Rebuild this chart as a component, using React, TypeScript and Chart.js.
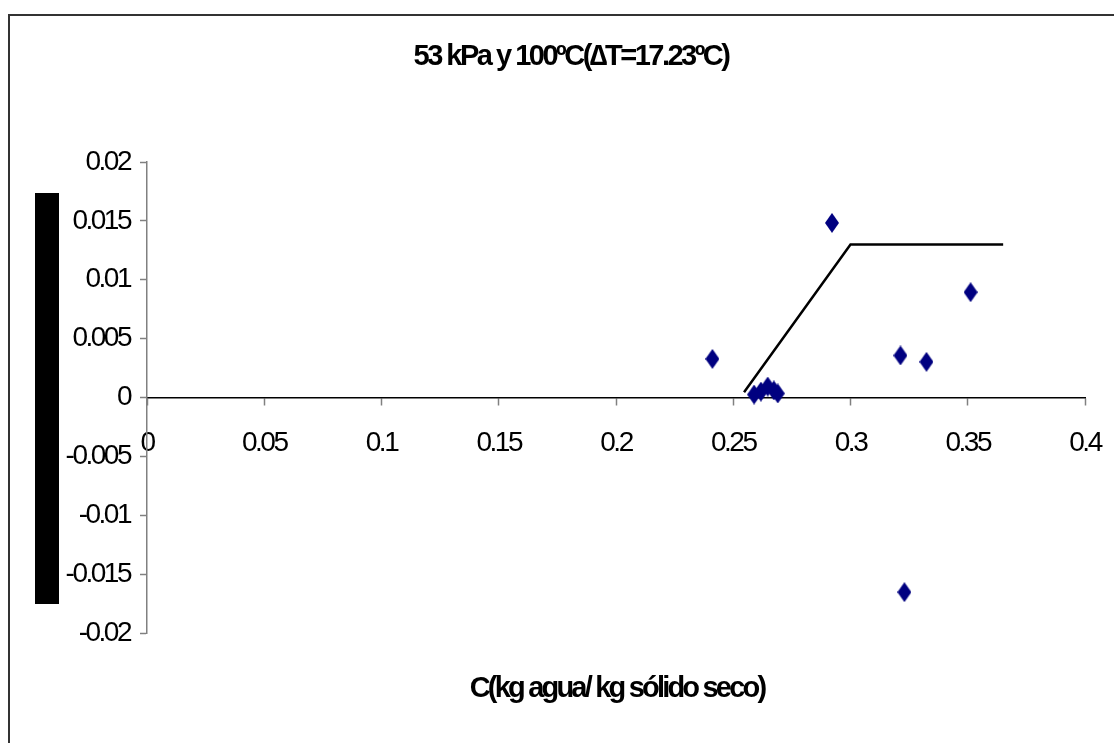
import { useEffect, useRef } from "react";
import { Chart, registerables } from "chart.js";

Chart.register(...registerables);

const TITLE = "53 kPa y 100ºC(∆T=17.23ºC)";
const X_TITLE = "C(kg agua/ kg sólido seco)";

const xTicks = [0, 0.05, 0.1, 0.15, 0.2, 0.25, 0.3, 0.35, 0.4];
const yTicks = [-0.02, -0.015, -0.01, -0.005, 0, 0.005, 0.01, 0.015, 0.02];

// measured points (C, rate)
const pointX = [0.2411, 0.2589, 0.2618, 0.2647, 0.2673, 0.269, 0.2921, 0.3213, 0.323, 0.3324, 0.3512];
const pointY = [0.00328, 0.00025, 0.0005, 0.00093, 0.0006, 0.00034, 0.01483, 0.00357, -0.01653, 0.00303, 0.00894];

// fitted model line
const lineX = [0.2546, 0.3, 0.3651];
const lineY = [0.00045, 0.013, 0.013];

const FONT_FAMILY = "'Liberation Sans', Arial, sans-serif";

function makeDiamond(w: number, h: number, color: string) {
  const c = document.createElement("canvas");
  c.width = w;
  c.height = h;
  const g = c.getContext("2d")!;
  g.fillStyle = color;
  g.beginPath();
  g.moveTo(w / 2, 0);
  g.lineTo(w, h / 2);
  g.lineTo(w / 2, h);
  g.lineTo(0, h / 2);
  g.closePath();
  g.fill();
  return c;
}

const decorPlugin = {
  id: "decor",
  beforeDraw(chart: any) {
    const ctx = chart.ctx;
    ctx.save();
    ctx.fillStyle = "#ffffff";
    ctx.fillRect(0, 0, chart.width, chart.height);
    ctx.fillStyle = "#333333";
    ctx.fillRect(8, 14, 2, chart.height);
    ctx.fillRect(8, 14, chart.width, 2);
    ctx.fillStyle = "#000000";
    ctx.fillRect(35, 193, 24, 411);
    ctx.restore();
    // condensed look for the tick labels
    (ctx as any).letterSpacing = "-2.5px";
  },
  afterDraw(chart: any) {
    const ctx = chart.ctx;
    const ca = chart.chartArea;
    ctx.save();
    ctx.fillStyle = "#000000";
    ctx.textAlign = "center";
    ctx.textBaseline = "middle";
    ctx.font = `bold 29px ${FONT_FAMILY}`;
    (ctx as any).letterSpacing = "-2.5px";
    ctx.fillText(TITLE, 571, 57);
    (ctx as any).letterSpacing = "-2.8px";
    ctx.fillText(X_TITLE, (ca.left + ca.right) / 2 + 1, 689);
    ctx.restore();
    (ctx as any).letterSpacing = "0px";
  },
};

export default function App() {
  const ref = useRef<HTMLCanvasElement | null>(null);

  useEffect(() => {
    if (!ref.current) return;
    const diamond = makeDiamond(14, 20, "#000080");
    const chart = new Chart(ref.current, {
      type: "scatter",
      data: {
        datasets: [
          {
            label: "Modelo",
            data: lineX.map((x, i) => ({ x, y: lineY[i] })),
            showLine: true,
            borderColor: "#000000",
            borderWidth: 2.5,
            pointRadius: 0,
            pointHoverRadius: 0,
            fill: false,
            order: 2,
          },
          {
            label: "Experimental",
            data: pointX.map((x, i) => ({ x, y: pointY[i] })),
            pointStyle: diamond as any,
            pointRadius: 7,
            backgroundColor: "#000080",
            borderColor: "#000080",
            showLine: false,
            order: 1,
          },
        ],
      },
      options: {
        responsive: false,
        animation: false,
        layout: { padding: { left: 0, top: 162, right: 29, bottom: 110 } },
        plugins: {
          legend: { display: false },
          tooltip: { enabled: false },
          title: { display: false },
        },
        scales: {
          x: {
            type: "linear",
            position: { y: 0 } as any,
            min: 0,
            max: 0.4,
            afterBuildTicks: (s: any) => {
              s.ticks = xTicks.map((v) => ({ value: v }));
            },
            afterFit: (s: any) => {
              s.paddingLeft = 0;
              s.paddingRight = 0;
              s.paddingTop = 0;
              s.paddingBottom = 0;
            },
            ticks: {
              color: "#000000",
              padding: 22,
              maxRotation: 0,
              autoSkip: false,
              font: { family: FONT_FAMILY, size: 28 },
              callback: (v: any) => String(Number(Number(v).toFixed(3))),
            },
            grid: {
              display: true,
              drawOnChartArea: false,
              drawTicks: true,
              tickLength: 7,
              tickColor: "#808080",
              tickWidth: 1.5,
            },
            border: { display: true, color: "#000000", width: 1.5 },
          },
          y: {
            type: "linear",
            position: "left",
            min: -0.02,
            max: 0.02,
            afterBuildTicks: (s: any) => {
              s.ticks = yTicks.map((v) => ({ value: v }));
            },
            afterFit: (s: any) => {
              s.width = 147;
              s.paddingLeft = 0;
              s.paddingRight = 0;
              s.paddingTop = 0;
              s.paddingBottom = 0;
            },
            ticks: {
              color: "#000000",
              padding: 10,
              autoSkip: false,
              font: { family: FONT_FAMILY, size: 28 },
              callback: (v: any) => String(Number(Number(v).toFixed(3))),
            },
            grid: {
              display: true,
              drawOnChartArea: false,
              drawTicks: true,
              tickLength: 7,
              tickColor: "#808080",
              tickWidth: 1.5,
            },
            border: { display: true, color: "#808080", width: 1.5 },
          },
        },
      },
      plugins: [decorPlugin],
    });
    return () => chart.destroy();
  }, []);

  return (
    <div style={{ position: "fixed", left: 0, top: 0, width: 1114, height: 743, overflow: "hidden", background: "#fff" }}>
      <canvas ref={ref} width={1114} height={743} style={{ display: "block" }} />
    </div>
  );
}
